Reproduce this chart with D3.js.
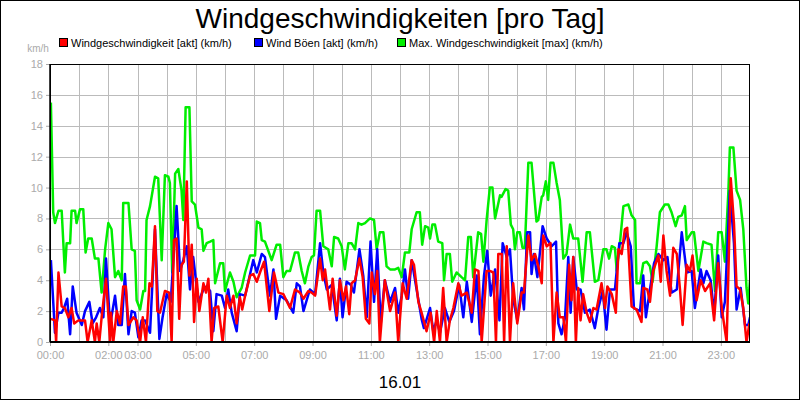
<!DOCTYPE html>
<html><head><meta charset="utf-8">
<script src="https://cdn.jsdelivr.net/npm/d3@7"></script>
<style>body{margin:0;background:#fff}svg{display:block}text{font-family:"Liberation Sans",Arial,sans-serif}</style>
</head><body><svg id="c" width="800" height="400"></svg>
<script>
const yTicks=[0,2,4,6,8,10,12,14,16,18];
const xTickHours=[0,2,3,5,7,9,11,13,15,17,19,21,23];
const xTickLabels=["00:00","02:00","03:00","05:00","07:00","09:00","11:00","13:00","15:00","17:00","19:00","21:00","23:00"];
const seriesNames=["Windgeschwindigkeit [akt] (km/h)","Wind Böen [akt] (km/h)","Max. Windgeschwindigkeit [max] (km/h)"];
const seriesColors=["#ff0000","#0000ff","#00ee00"];
const maxT=[0.03,0.11,0.17,0.29,0.4,0.51,0.57,0.69,0.74,0.86,0.91,1.03,1.14,1.22,1.31,1.43,1.54,1.66,1.77,1.89,2.0,2.11,2.23,2.34,2.46,2.51,2.69,2.8,2.91,2.97,3.09,3.2,3.26,3.31,3.43,3.6,3.71,3.83,3.94,4.06,4.11,4.19,4.29,4.4,4.51,4.57,4.65,4.78,4.86,4.97,5.09,5.2,5.26,5.37,5.49,5.6,5.66,5.83,5.94,6.0,6.17,6.29,6.4,6.57,6.69,6.86,7.03,7.09,7.2,7.26,7.37,7.6,7.77,7.89,
8.0,8.11,8.23,8.4,8.51,8.63,8.74,8.86,8.97,9.05,9.14,9.26,9.37,9.54,9.66,9.74,9.88,10.0,10.11,10.23,10.34,10.46,10.57,10.68,10.8,10.97,11.11,11.2,11.31,11.43,11.54,11.66,11.83,11.94,12.06,12.17,12.32,12.4,12.57,12.68,12.76,12.86,12.97,13.03,13.11,13.2,13.31,13.45,13.51,13.6,13.71,13.79,13.94,14.11,14.23,14.34,14.43,14.51,14.68,14.78,14.86,14.97,15.08,15.17,15.26,15.43,15.48,15.62,15.71,
15.8,15.88,15.94,16.02,16.11,16.2,16.28,16.4,16.51,16.68,16.74,16.86,16.91,17.0,17.08,17.16,17.26,17.37,17.48,17.6,17.71,17.83,17.94,18.11,18.26,18.4,18.51,18.68,18.8,18.97,19.08,19.17,19.26,19.37,19.43,19.54,19.66,19.83,19.94,20.06,20.11,20.23,20.34,20.46,20.57,20.66,20.8,20.91,21.08,21.2,21.31,21.45,21.54,21.66,21.77,21.83,22.0,22.08,22.23,22.4,22.51,22.68,22.8,22.91,23.03,23.14,23.26,23.31,23.43,23.54,23.66,23.77,23.88,23.94,24.0];
const maxV=[15.5,8.4,7.7,8.5,8.5,4.5,6.4,6.4,8.5,8.5,7.7,8.6,8.6,5.8,6.7,6.7,5.4,5.4,3.2,6.0,7.7,7.3,4.2,4.6,4.0,9.0,9.0,6.0,5.9,2.7,2.1,3.3,3.3,7.9,8.8,10.7,10.6,5.3,10.8,10.7,10.3,4.5,10.9,11.2,9.8,7.9,15.2,15.2,9.1,8.9,7.4,7.3,5.9,6.4,6.5,6.6,3.8,5.1,5.1,3.3,4.5,3.9,2.9,3.5,4.5,5.6,5.6,7.8,7.7,6.6,6.5,5.3,6.3,6.3,
4.2,4.6,4.6,5.8,5.8,4.6,3.8,4.9,5.5,5.6,8.5,8.5,6.2,6.0,4.9,6.8,6.7,6.2,4.7,6.4,6.4,6.0,7.7,7.6,7.7,8.0,7.9,6.0,7.1,7.1,4.9,4.7,4.7,4.8,4.2,5.8,5.8,7.3,8.4,8.4,6.3,7.5,7.4,6.7,7.6,7.6,6.5,6.4,4.0,5.7,5.7,3.9,4.5,4.2,4.0,6.8,6.8,4.2,7.1,7.0,5.2,7.9,10.0,10.0,8.0,9.5,9.4,9.9,9.8,
7.6,7.3,6.0,7.1,7.1,6.1,6.1,11.6,11.6,7.8,7.9,9.4,9.5,10.4,9.2,11.6,11.6,10.3,9.2,5.4,5.7,7.6,6.7,6.7,3.9,7.1,7.1,3.9,4.0,6.0,6.0,5.4,6.2,6.1,4.6,6.4,8.8,8.9,8.2,7.9,3.8,3.8,5.1,5.2,4.9,3.9,6.2,8.4,8.9,8.9,8.4,7.5,8.1,8.2,8.8,6.6,7.1,7.1,4.6,6.5,6.4,6.3,3.3,7.1,7.1,5.2,9.8,12.6,12.6,9.8,9.2,7.3,3.5,2.5,4.0];
const aktT=[0.03,0.17,0.21,0.29,0.40,0.51,0.63,0.74,0.83,0.97,1.09,1.20,1.29,1.43,1.54,1.60,1.69,1.77,1.92,2.06,2.09,2.17,2.29,2.40,2.51,2.60,2.69,2.86,2.97,3.09,3.18,3.29,3.41,3.49,3.60,3.68,3.77,3.94,4.09,4.17,4.25,4.34,4.43,4.51,4.59,4.69,4.78,4.86,4.94,5.03,5.12,5.26,5.35,5.43,5.54,5.63,5.77,5.92,6.06,6.17,6.29,6.40,6.51,6.59,6.69,6.86,6.97,7.09,7.20,7.34,7.52,
7.68,7.83,8.00,8.23,8.40,8.57,8.69,8.86,8.97,9.09,9.26,9.35,9.43,9.60,9.69,9.83,9.94,10.06,10.15,10.26,10.34,10.46,10.61,10.72,10.83,10.95,11.03,11.14,11.22,11.31,11.48,11.66,11.83,11.94,12.09,12.23,12.40,12.48,12.63,12.74,12.91,13.05,13.17,13.26,13.37,13.48,13.60,13.71,13.83,14.00,14.11,14.29,14.46,14.57,14.69,14.80,14.97,15.08,15.20,15.29,15.37,15.49,15.57,15.66,
15.77,15.88,16.02,16.17,16.25,16.40,16.51,16.63,16.74,16.86,16.91,17.03,17.16,17.26,17.37,17.48,17.60,17.69,17.80,17.88,17.94,18.03,18.11,18.19,18.28,18.40,18.51,18.63,18.74,18.91,19.03,19.11,19.26,19.40,19.49,19.60,19.71,19.79,19.94,20.11,20.28,20.34,20.48,20.57,20.68,20.86,20.94,21.03,21.14,21.26,21.37,21.49,21.60,21.69,21.83,21.94,22.03,22.17,22.31,22.46,22.63,22.77,22.91,23.03,23.20,23.34,23.45,23.54,23.66,23.77,23.88,23.98];
const aktV=[1.5,1.4,0,4.5,2.3,2.2,1.6,2.2,1.2,1.4,1.4,1.4,0,1.4,0,1.2,0,1.6,4.1,0,1.9,0,2.0,1.2,3.6,3.6,1.1,1.6,1.4,0,1.6,0,3.8,3.6,7.5,2.0,1.9,3.3,3.2,0,6.6,6.7,1.5,5.0,5.2,10.4,4.3,6.3,1.3,4.1,2.0,3.8,3.2,4.1,0,2.2,2.3,0,3.0,2.2,3.0,1.2,2.9,2.1,3.0,4.3,4.4,3.9,4.5,5.2,2.0,
4.5,3.2,3.1,2.2,3.4,3.2,2.8,3.3,3.2,3.0,5.4,4.0,4.7,2.1,4.1,1.7,4.0,2.7,3.6,1.8,3.8,4.0,5.4,4.2,1.5,1.2,4.5,3.1,4.6,0,4.0,2.0,3.2,0,3.8,2.8,5.3,5.0,2.6,1.9,0.7,1.9,0,2.0,0,3.5,0,1.4,2.2,3.8,3.0,3.2,1.9,4.7,4.6,0,4.6,4.6,4.5,0,5.7,5.7,0,6.2,
0,3.8,1.2,3.2,3.2,6.9,5.3,5.7,4.9,3.8,6.9,6.2,6.4,0,3.2,1.6,1.6,0,5.0,2.7,5.5,0,3.5,1.4,3.1,1.9,1.3,2.2,2.1,3.8,2.2,3.6,3.1,1.9,6.0,5.7,7.3,7.4,2.3,2.1,1.3,3.5,3.4,2.6,4.6,5.6,3.9,6.9,4.6,3.0,6.1,5.7,3.4,1.1,5.0,4.6,5.6,2.7,4.0,3.3,3.8,1.4,5.1,2.2,0,10.6,7.7,3.6,3.4,2.2,0,1.2];
const boeT=[0.03,0.17,0.29,0.40,0.48,0.59,0.69,0.78,0.91,1.09,1.20,1.35,1.46,1.58,1.71,1.83,1.92,2.06,2.23,2.34,2.46,2.57,2.69,2.80,2.91,3.03,3.14,3.26,3.43,3.60,3.75,3.86,4.00,4.14,4.29,4.34,4.46,4.57,4.69,4.80,4.91,5.09,5.26,5.37,5.49,5.60,5.71,5.89,6.00,6.11,6.23,6.40,6.51,6.69,6.86,6.97,7.09,7.26,7.37,7.54,7.66,7.75,
7.89,8.11,8.34,8.46,8.57,8.69,8.91,9.09,9.26,9.37,9.49,9.66,9.83,9.94,10.03,10.17,10.31,10.42,10.61,10.74,10.86,10.99,11.11,11.22,11.34,11.48,11.66,11.83,11.94,12.06,12.17,12.28,12.40,12.57,12.74,12.82,13.03,13.14,13.26,13.37,13.54,13.69,13.85,14.03,14.17,14.29,14.46,14.63,14.74,14.88,14.99,15.11,15.26,15.41,15.52,15.66,
15.77,15.88,16.02,16.17,16.25,16.36,16.46,16.51,16.59,16.71,16.89,17.03,17.20,17.35,17.43,17.54,17.66,17.77,17.85,17.94,18.06,18.19,18.34,18.51,18.68,18.80,18.95,19.08,19.20,19.37,19.52,19.66,19.77,19.91,20.02,20.23,20.34,20.43,20.57,20.71,20.86,21.03,21.17,21.31,21.49,21.66,21.83,22.00,22.11,22.31,22.40,22.51,22.65,22.77,22.91,23.03,23.14,23.31,23.45,23.54,23.68,23.83,23.94,24.0];
const boeV=[5.3,0.6,1.9,1.9,2.2,2.8,0.5,3.6,1.9,1.1,2.0,2.6,1.2,1.6,2.2,1.6,5.4,1.1,3.0,1.1,1.1,4.4,0.5,2.0,1.9,0.3,1.4,1.4,0.6,7.3,0.2,1.6,3.1,2.6,7.1,8.8,4.6,5.3,6.2,3.4,5.5,2.6,3.4,3.6,3.3,0.7,3.1,3.0,2.2,3.4,1.9,0.7,3.1,3.0,4.4,5.3,4.5,5.7,5.5,3.0,4.7,1.5,
3.0,2.7,1.9,3.8,3.6,2.0,3.4,3.1,6.4,4.5,3.4,3.7,1.4,4.1,1.6,3.9,3.7,3.2,6.0,4.3,1.6,6.5,2.6,6.0,1.2,4.0,2.6,3.5,1.9,3.0,4.7,2.8,5.3,3.4,1.5,0.9,2.2,0.7,1.4,0.6,2.2,1.3,2.0,3.7,1.6,3.9,1.3,4.3,0.5,4.3,5.9,3.0,4.7,1.4,6.4,5.5,
6.0,2.8,1.4,3.5,2.1,7.1,7.1,4.4,5.7,4.2,7.5,6.7,6.2,6.5,1.2,0.5,1.6,5.5,1.9,5.5,3.4,3.4,1.9,2.1,0.9,2.2,3.3,0.8,3.4,3.4,6.4,6.4,7.1,6.2,2.2,2.0,4.3,1.6,3.4,5.1,5.7,5.3,5.5,3.2,3.4,7.1,4.5,4.6,2.2,4.7,3.8,4.6,4.0,1.8,5.6,1.6,2.6,9.8,6.4,2.1,3.5,1.1,1.1,1.6];

const svg=d3.select("#c");
const m={l:50,r:750,t:64,b:342};
const x=d3.scaleLinear().domain([0,24]).range([m.l,m.r]);
const y=d3.scaleLinear().domain([0,18]).range([m.b,m.t]);
svg.append("rect").attr("x",0.5).attr("y",0.5).attr("width",799).attr("height",399).attr("fill","#fff").attr("stroke","#000");
const g=svg.append("g");
g.selectAll(".vg").data(d3.range(1,24)).join("line").attr("x1",d=>Math.round(x(d))+0.5).attr("x2",d=>Math.round(x(d))+0.5).attr("y1",m.t).attr("y2",m.b).attr("stroke","#bbbbbb");
g.selectAll(".hg").data(yTicks.slice(1,-1)).join("line").attr("y1",d=>Math.round(y(d))+0.5).attr("y2",d=>Math.round(y(d))+0.5).attr("x1",m.l).attr("x2",m.r).attr("stroke","#bbbbbb");
const ya=d3.axisLeft(y).tickValues(yTicks).tickSize(4).tickFormat(d3.format("d"));
const yg=svg.append("g").attr("transform",`translate(${m.l},0)`).call(ya);
yg.select(".domain").remove();
yg.selectAll("line").attr("stroke","#aaa");
yg.selectAll("text").attr("fill","#aaa").style("font-size","11px");
const xa=d3.axisBottom(x).tickValues(xTickHours).tickSize(4).tickFormat((d,i)=>xTickLabels[i]);
const xg=svg.append("g").attr("transform",`translate(0,${m.b})`).call(xa);
xg.select(".domain").remove();
xg.selectAll("line").attr("stroke","#aaa");
xg.selectAll("text").attr("fill","#aaa").style("font-size","11px").attr("dy","0.9em");
const clip=svg.append("clipPath").attr("id","cp").append("rect").attr("x",m.l).attr("y",m.t-2).attr("width",m.r-m.l).attr("height",m.b-m.t+2);
const line=d3.line().x(d=>x(d[0])).y(d=>y(d[1]));
const data=[d3.zip(aktT,aktV),d3.zip(boeT,boeV),d3.zip(maxT,maxV)];
[2,1,0].forEach(i=>{
 svg.append("path").attr("d",line(data[i])).attr("fill","none").attr("stroke",seriesColors[i]).attr("stroke-width",2.5).attr("stroke-linejoin","round").attr("clip-path","url(#cp)");
});
svg.append("rect").attr("x",m.l+0.5).attr("y",m.t+0.5).attr("width",m.r-m.l-1).attr("height",m.b-m.t-1).attr("fill","none").attr("stroke","#000");
svg.append("line").attr("x1",m.l).attr("x2",m.r).attr("y1",m.b).attr("y2",m.b).attr("stroke","#000").attr("stroke-width",2);
svg.append("line").attr("x1",m.l).attr("x2",m.l).attr("y1",m.t).attr("y2",m.b).attr("stroke","#000").attr("stroke-width",1.5);
svg.append("text").attr("x",400).attr("y",28).attr("text-anchor","middle").style("font-size","28px").text("Windgeschwindigkeiten [pro Tag]");
svg.append("text").attr("x",38).attr("y",52).attr("text-anchor","middle").attr("fill","#aaa").style("font-size","10px").text("km/h");
svg.append("text").attr("x",400).attr("y",388).attr("text-anchor","middle").style("font-size","17px").text("16.01");
const lx=[59,254,397];
seriesNames.forEach((n,i)=>{
 svg.append("rect").attr("x",lx[i]+0.5).attr("y",38.5).attr("width",8).attr("height",8).attr("fill",seriesColors[i]).attr("stroke","#000");
 svg.append("text").attr("x",lx[i]+12).attr("y",47).style("font-size","11px").text(n);
});
</script></body></html>
